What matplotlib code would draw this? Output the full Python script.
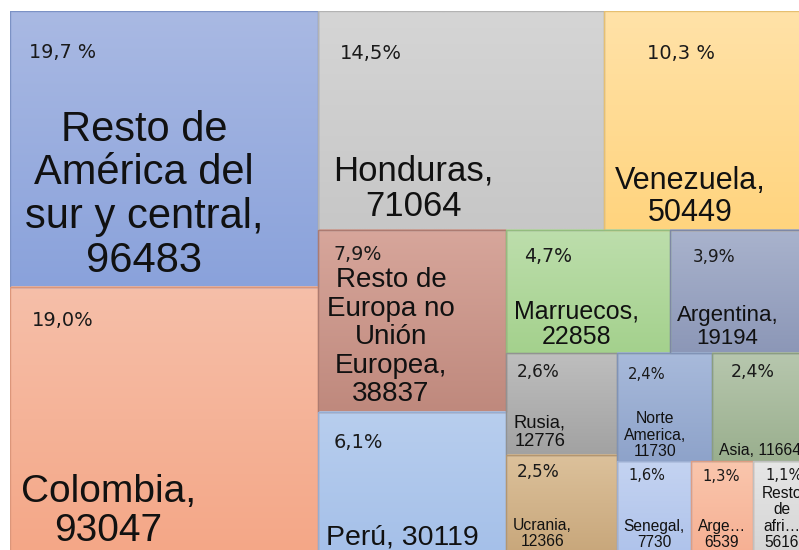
import numpy as np
import matplotlib.pyplot as plt
from matplotlib.colors import to_rgb
from matplotlib.patches import Rectangle

# origin groups and number of people
categories = ["Resto de América del sur y central", "Colombia", "Honduras", "Venezuela",
              "Resto de Europa no Unión Europea", "Perú", "Marruecos", "Argentina",
              "Rusia", "Ucrania", "Norte America", "Asia", "Senegal", "Argelia",
              "Resto de africa"]
values = [96483, 93047, 71064, 50449, 38837, 30119, 22858, 19194,
          12776, 12366, 11730, 11664, 7730, 6539, 5616]
pct_labels = ["19,7 %", "19,0%", "14,5%", "10,3 %", "7,9%", "6,1%", "4,7%", "3,9%",
              "2,6%", "2,5%", "2,4%", "2,4%", "1,6%", "1,3%", "1,1%"]

# how the text is wrapped inside each cell
label_fmt = ["Resto de\nAmérica del\nsur y central,\n{}", "Colombia,\n{}", "Honduras,\n{}",
             "Venezuela,\n{}", "Resto de\nEuropa no\nUnión\nEuropea,\n{}", "Perú, {}",
             "Marruecos,\n{}", "Argentina,\n{}", "Rusia,\n{}", "Ucrania,\n{}",
             "Norte\nAmerica,\n{}", "Asia, {}", "Senegal,\n{}", "Arge…\n{}",
             "Resto\nde\nafri…\n{}"]

# gradient colours (top, bottom) and edge colour
top_colors = ["#A9B9E3", "#F6BFA9", "#D5D5D5", "#FFE2A8", "#D7A69B", "#B8CEEE", "#BDDEAC",
              "#A9B3CD", "#BEBEBE", "#DCC19B", "#A8BADB", "#B7C7AE", "#C4D3F1", "#FAC6AD",
              "#E6E6E6"]
bot_colors = ["#8AA2DB", "#F4A787", "#C7C7C7", "#FFD47E", "#BF897D", "#A5C0E9", "#A4D18D",
              "#8C97B7", "#A2A2A2", "#C8A77B", "#8EA3CA", "#9AAF8E", "#AFC3EB", "#F6B093",
              "#D5D5D5"]

# slice order of the layout: columns on the left, rows on top, alternating
groups = [[0, 1], [2, 3], [4, 5], [6, 7], [8, 9], [10, 11], [12, 13, 14]]
orient = ["col", "row", "col", "row", "col", "row", "row"]

# text placement inside each cell (fraction of cell width / height)
name_pos = [(0.435, 0.668), (0.32, 0.845), (0.334, 0.812), (0.424, 0.85), (0.388, 0.59),
            (0.45, 0.887), (0.433, 0.768), (0.42, 0.79), (0.306, 0.785), (0.33, 0.80),
            (0.40, 0.76), (0.074, 0.90), (0.51, 0.80), (0.50, 0.80), (0.53, 0.62)]
name_size = [30, 28, 25, 22, 20, 20.5, 18, 16, 13.2, 11.3, 11.3, 11.3, 11.2, 11.2, 11.2]
pct_pos = [(0.172, 0.152), (0.172, 0.128), (0.185, 0.192), (0.379, 0.196), (0.213, 0.137),
           (0.213, 0.22), (0.256, 0.22), (0.321, 0.22), (0.288, 0.186), (0.288, 0.179),
           (0.316, 0.204), (0.432, 0.176), (0.412, 0.152), (0.492, 0.163), (0.585, 0.152)]
pct_size = [13.8, 14, 14, 14, 13.7, 14, 13.6, 12.2, 12.2, 12.2, 10.6, 12.5, 10.5, 10.6, 10.6]


def slice_layout(vals, groups, orient):
    # returns (x, y, w, h) for every value inside the unit square, y downwards
    rects = [None] * len(vals)
    x0, y0, w, h = 0.0, 0.0, 1.0, 1.0
    remaining = float(sum(vals))
    for g, o in zip(groups, orient):
        gsum = float(sum(vals[i] for i in g))
        frac = gsum / remaining
        if o == "col":
            gw = w * frac
            yy = y0
            for i in g:
                hh = h * vals[i] / gsum
                rects[i] = (x0, yy, gw, hh)
                yy += hh
            x0 += gw
            w -= gw
        else:
            gh = h * frac
            xx = x0
            for i in g:
                ww = w * vals[i] / gsum
                rects[i] = (xx, y0, ww, gh)
                xx += ww
            y0 += gh
            h -= gh
        remaining -= gsum
    return rects


def darker(c, f=0.9):
    r, g, b = to_rgb(c)
    return (r * f, g * f, b * f)


rects = slice_layout(values, groups, orient)

fig = plt.figure(figsize=(7.99, 5.5), dpi=100)
fig.patch.set_facecolor("white")
# the treemap is cropped on the right and bottom edge in the original picture
ax = fig.add_axes([10 / 799, 1 - 553 / 550, 797 / 799, 542 / 550])
ax.set_xlim(0, 1)
ax.set_ylim(1, 0)
ax.axis("off")

for i, (x, y, w, h) in enumerate(rects):
    t = np.array(to_rgb(top_colors[i]))
    b = np.array(to_rgb(bot_colors[i]))
    s = np.linspace(0, 1, 64)[:, None]
    grad = (t * (1 - s) + b * s)[:, None, :]
    ax.imshow(grad, extent=(x, x + w, y + h, y), aspect="auto",
              interpolation="bilinear", zorder=1)
    ax.add_patch(Rectangle((x, y), w, h, fill=False, edgecolor=darker(bot_colors[i]),
                           lw=1.0, zorder=2))

    px, py = pct_pos[i]
    ax.text(x + px * w, y + py * h, pct_labels[i], fontsize=pct_size[i],
            family="DejaVu Sans", color="#1a1a1a", ha="center", va="center", zorder=3)

    nx, ny = name_pos[i]
    ha = "left" if categories[i] == "Asia" else "center"
    ax.text(x + nx * w, y + ny * h, label_fmt[i].format(values[i]), fontsize=name_size[i],
            family="Liberation Sans", color="#111111", ha=ha, va="center",
            multialignment="center", linespacing=1.12, zorder=3)

ax.set_xlim(0, 1)
ax.set_ylim(1, 0)
fig.savefig("out.png", dpi=100)
